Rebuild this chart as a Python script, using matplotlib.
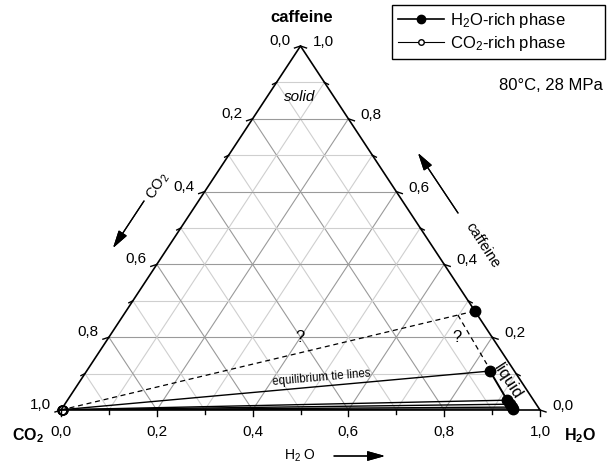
import numpy as np
import matplotlib.pyplot as plt
from matplotlib.lines import Line2D

plt.rcParams['font.family'] = ['Liberation Sans', 'DejaVu Sans']
plt.rcParams['mathtext.fontset'] = 'custom'
plt.rcParams['mathtext.rm'] = 'Liberation Sans'
plt.rcParams['mathtext.it'] = 'Liberation Sans:italic'
plt.rcParams['mathtext.bf'] = 'Liberation Sans:bold'

# mole fractions (H2O, caffeine; CO2 is the rest)
h2o_rich_h2o = [0.842, 0.918, 0.929, 0.9375, 0.942]
h2o_rich_caf = [0.107, 0.027, 0.016, 0.008, 0.003]
co2_rich_h2o = [0.004, 0.003, 0.002, 0.0015, 0.001]
co2_rich_caf = [0.001, 0.0008, 0.0005, 0.0003, 0.0002]
# caffeine solubility in pure water (binary edge)
sol_h2o = [0.728]
sol_caf = [0.272]
# dashed boundary of the unknown region
bound_h2o = [0.698, 0.826]
bound_caf = [0.261, 0.126]
tick_vals = [0.0, 0.1, 0.2, 0.3, 0.4, 0.5, 0.6, 0.7, 0.8, 0.9, 1.0]

W, H = 607, 463


def tern(h2o, caf):
    h2o = np.asarray(h2o, float)
    caf = np.asarray(caf, float)
    return h2o + caf / 2, caf


def fpx(x, y):
    # figure pixel (from top-left) -> figure fraction
    return x / W, 1 - y / H


fig = plt.figure(figsize=(W / 100, H / 100), dpi=100)
ax = fig.add_axes([61 / W, 53 / H, 479 / W, 364 / H])
ax.set_xlim(0, 1)
ax.set_ylim(0, 1)
ax.axis('off')
px = 1 / 479
py = 1 / 364
pt = 0.72

# Grid
for k in range(1, 10):
    v = k / 10
    col = '#9a9a9a' if k % 2 == 0 else '#cfcfcf'
    ax.plot([v / 2, 1 - v / 2], [v, v], color=col, lw=0.8, zorder=1)
    ax.plot([v, (1 + v) / 2], [0, 1 - v], color=col, lw=0.8, zorder=1)
    ax.plot([1 - v, (1 - v) / 2], [0, 1 - v], color=col, lw=0.8, zorder=1)

# Triangle outline
ax.plot([0, 1, 0.5, 0], [0, 0, 1, 0], color='k', lw=1.2, clip_on=False, zorder=3)

# Ticks and tick labels
for i, v in enumerate(tick_vals):
    L = 6 if i % 2 == 0 else 4
    lab = f'{v:.1f}'.replace('.', ',')
    # bottom: H2O
    ax.plot([v, v], [0, -L * py], color='k', lw=1, clip_on=False)
    # right: caffeine
    xr, yr = 1 - v / 2, v
    ax.plot([xr, xr + L * px], [yr, yr - 2 * py], color='k', lw=1, clip_on=False)
    # left: CO2
    xl, yl = (1 - v) / 2, 1 - v
    ax.plot([xl, xl - L * px], [yl, yl - 2 * py], color='k', lw=1, clip_on=False)
    if i % 2 == 0:
        ax.annotate(lab, (v, 0), xytext=(0, -22 * pt), textcoords='offset points',
                    ha='center', va='center', fontsize=11)
        ax.annotate(lab, (xr, yr), xytext=(12 * pt, 4 * pt), textcoords='offset points',
                    ha='left', va='center', fontsize=11)
        ax.annotate(lab, (xl, yl), xytext=(-10 * pt, 5 * pt), textcoords='offset points',
                    ha='right', va='center', fontsize=11)

# Tie lines (each CO2-rich point to its H2O-rich partner)
hx, hy = tern(h2o_rich_h2o, h2o_rich_caf)
cx, cy = tern(co2_rich_h2o, co2_rich_caf)
for i in range(len(hx)):
    ax.plot([cx[i], hx[i]], [cy[i], hy[i]], color='k', lw=1.0, zorder=4)

# Dashed lines
sx, sy = tern(sol_h2o, sol_caf)
ax.plot([0, sx[0]], [0, sy[0]], color='k', lw=0.9, ls=(0, (4, 3)), zorder=4)
bx, by = tern(bound_h2o, bound_caf)
ax.plot(bx, by, color='k', lw=0.9, ls=(0, (4, 3)), zorder=4)

# Phases
ax.plot(hx, hy, color='k', lw=1.4, marker='o', ms=7.5, mfc='k', mec='k', zorder=6, clip_on=False)
ax.plot(sx, sy, ls='none', marker='o', ms=7.5, mfc='k', mec='k', zorder=6, clip_on=False)
ax.plot(cx, cy, color='k', lw=0.8, marker='o', ms=6.5, mfc='none', mec='k', mew=0.9,
        zorder=6, clip_on=False)

# Texts
fig.text(*fpx(302, 18), 'caffeine', ha='center', va='center', fontsize=12, fontweight='bold')
fig.text(*fpx(300, 97), 'solid', ha='center', va='center', fontsize=11, style='italic')
fig.text(*fpx(28, 436), r'$\mathbf{CO_2}$', ha='center', va='center', fontsize=11.5)
fig.text(*fpx(580, 436), r'$\mathbf{H_2O}$', ha='center', va='center', fontsize=11.5)
fig.text(*fpx(300, 456), r'H$_2$ O', ha='center', va='center', fontsize=10)
fig.text(*fpx(158, 186), r'CO$_2$', ha='center', va='center', fontsize=10.5, rotation=57)
fig.text(*fpx(483, 245), 'caffeine', ha='center', va='center', fontsize=10.5, rotation=-57)
fig.text(*fpx(508, 381), 'liquid', ha='center', va='center', fontsize=12, rotation=-57)
fig.text(*fpx(300, 337), '?', ha='center', va='center', fontsize=12)
fig.text(*fpx(457, 338), '?', ha='center', va='center', fontsize=12)
fig.text(*fpx(321, 378), 'equilibrium tie lines', ha='center', va='center', fontsize=8.3,
         rotation=5)
fig.text(*fpx(603, 85), '80°C, 28 MPa', ha='right', va='center', fontsize=12)

# Arrows
arrow = dict(arrowstyle='-|>,head_length=0.9,head_width=0.25', color='k', lw=0.9,
             mutation_scale=12, shrinkA=0, shrinkB=0)
for tail, head in [((144, 201), (113, 248)), ((458, 213), (418, 153)), ((334, 456), (385, 456))]:
    fig.add_artist(plt.annotate('', xy=fpx(*head), xytext=fpx(*tail), xycoords='figure fraction',
                                textcoords='figure fraction', arrowprops=arrow))

# Legend
h1 = Line2D([], [], color='k', lw=1.2, marker='o', ms=6, mfc='k', mec='k')
h2 = Line2D([], [], color='k', lw=0.8, marker='o', ms=4, mfc='white', mec='k')
x0, y0 = fpx(392, 62)
leg = fig.legend([h1, h2], [r'H$_2$O-rich phase', r'CO$_2$-rich phase'], loc='upper left',
                 bbox_to_anchor=(x0, y0, 213 / W, 57 / H), mode='expand', frameon=True,
                 fancybox=False, edgecolor='k', fontsize=12, handlelength=2.8,
                 borderaxespad=0, borderpad=0.35, labelspacing=0.25, handletextpad=0.35,
                 framealpha=1)
leg.get_frame().set_linewidth(1)

fig.savefig('out.png', dpi=100)
